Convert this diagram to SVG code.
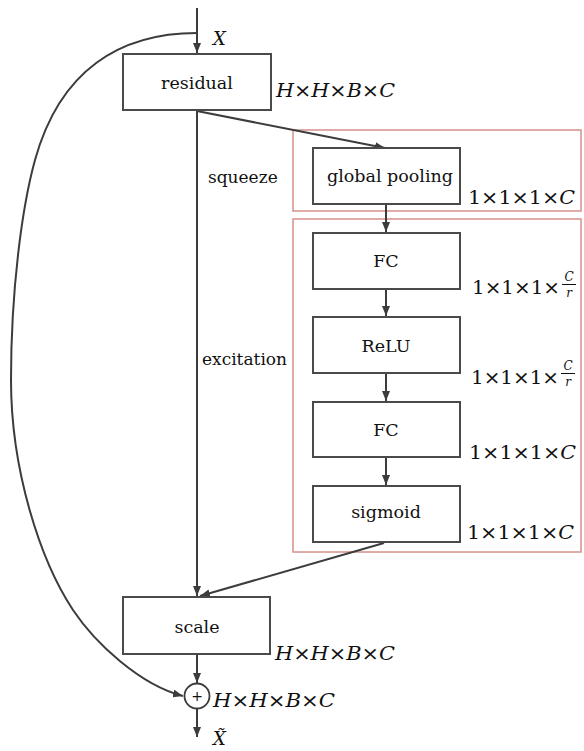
<svg xmlns="http://www.w3.org/2000/svg" width="584" height="751" viewBox="0 0 584 751">
<style>
.box{fill:#fff;stroke:#4a4a4a;stroke-width:2}
.grp{fill:none;stroke:#d4908a;stroke-width:1.5}
.ln{fill:none;stroke:#3c3c3c;stroke-width:2}
.t{font-family:"DejaVu Serif","Liberation Serif",serif;font-size:17.5px;fill:#111;text-anchor:middle}
.lbl{font-family:"DejaVu Serif","Liberation Serif",serif;font-size:17px;fill:#111}
.m{font-family:"DejaVu Serif","Liberation Serif",serif;font-size:18px;fill:#111}
.fr{font-family:"DejaVu Serif","Liberation Serif",serif;font-size:12px;font-style:italic;fill:#111;text-anchor:middle}
.i{font-style:italic}
</style>
<defs>
<marker id="ah" markerWidth="10" markerHeight="8" refX="10" refY="4" orient="auto" markerUnits="userSpaceOnUse">
<path d="M0,0 L10,4 L0,8 z" fill="#3c3c3c"/>
</marker>
</defs>
<rect class="grp" x="293" y="130" width="288" height="81"/>
<rect class="grp" x="293" y="219" width="288" height="333"/>
<g id="connectors">
<line class="ln" x1="197" y1="8" x2="197" y2="53" marker-end="url(#ah)"/>
<line class="ln" x1="197" y1="111" x2="197" y2="596" marker-end="url(#ah)"/>
<line class="ln" x1="197" y1="111" x2="385" y2="148" marker-end="url(#ah)"/>
<line class="ln" x1="386" y1="204" x2="386" y2="232" marker-end="url(#ah)"/>
<line class="ln" x1="386" y1="289" x2="386" y2="316" marker-end="url(#ah)"/>
<line class="ln" x1="386" y1="373" x2="386" y2="401" marker-end="url(#ah)"/>
<line class="ln" x1="386" y1="457" x2="386" y2="485" marker-end="url(#ah)"/>
<line class="ln" x1="384" y1="543" x2="200" y2="596" marker-end="url(#ah)"/>
<line class="ln" x1="197" y1="655" x2="197" y2="683" marker-end="url(#ah)"/>
<line class="ln" x1="197" y1="709" x2="197" y2="737" marker-end="url(#ah)"/>
<path class="ln" d="M197,33 C120,33 60,70 35,160 C22,207 11,290 11,380 C11,470 40,560 73,610 C95,643 140,685 183,696" marker-end="url(#ah)"/>
</g>
<g id="residual">
<rect class="box" x="123" y="54" width="148" height="56"/>
<text class="t" x="197" y="89">residual</text>
</g>
<g id="global-pooling">
<rect class="box" x="313" y="148" width="147" height="56"/>
<text class="t" x="390" y="182">global pooling</text>
</g>
<g id="fc1">
<rect class="box" x="313" y="233" width="147" height="56"/>
<text class="t" x="386" y="267">FC</text>
</g>
<g id="relu">
<rect class="box" x="313" y="317" width="147" height="56"/>
<text class="t" x="386" y="352">ReLU</text>
</g>
<g id="fc2">
<rect class="box" x="313" y="402" width="147" height="55"/>
<text class="t" x="386" y="436">FC</text>
</g>
<g id="sigmoid">
<rect class="box" x="313" y="486" width="147" height="56"/>
<text class="t" x="386" y="518">sigmoid</text>
</g>
<g id="scale">
<rect class="box" x="123" y="597" width="147" height="57"/>
<text class="t" x="197" y="633">scale</text>
</g>
<g id="add">
<circle cx="197" cy="696" r="12.5" fill="#fff" stroke="#3c3c3c" stroke-width="1.8"/>
<text x="197" y="701" style="font-family:'DejaVu Sans',sans-serif;font-size:14px;fill:#111;text-anchor:middle">+</text>
</g>
<g id="labels">
<text class="m i" x="213" y="45">X</text>
<text class="m i" x="213" y="745">X̃</text>
<text class="lbl" x="208" y="183">squeeze</text>
<text class="lbl" x="202" y="365">excitation</text>
<text class="m" x="276" y="97" textLength="119" lengthAdjust="spacingAndGlyphs"><tspan class="i">H</tspan>×<tspan class="i">H</tspan>×<tspan class="i">B</tspan>×<tspan class="i">C</tspan></text>
<text class="m" x="275" y="660" textLength="120" lengthAdjust="spacingAndGlyphs"><tspan class="i">H</tspan>×<tspan class="i">H</tspan>×<tspan class="i">B</tspan>×<tspan class="i">C</tspan></text>
<text class="m" x="213" y="707" textLength="122" lengthAdjust="spacingAndGlyphs"><tspan class="i">H</tspan>×<tspan class="i">H</tspan>×<tspan class="i">B</tspan>×<tspan class="i">C</tspan></text>
<text class="m" x="468" y="204" textLength="107" lengthAdjust="spacingAndGlyphs">1×1×1×<tspan class="i">C</tspan></text>
<text class="m" x="469" y="459" textLength="107" lengthAdjust="spacingAndGlyphs">1×1×1×<tspan class="i">C</tspan></text>
<text class="m" x="467" y="539" textLength="107" lengthAdjust="spacingAndGlyphs">1×1×1×<tspan class="i">C</tspan></text>
<text class="m" x="472" y="294" textLength="88" lengthAdjust="spacingAndGlyphs">1×1×1×</text>
<text class="fr" x="569" y="281">C</text>
<line x1="562" y1="284.5" x2="576" y2="284.5" stroke="#111" stroke-width="1"/>
<text class="fr" x="569" y="297">r</text>
<text class="m" x="471" y="384" textLength="88" lengthAdjust="spacingAndGlyphs">1×1×1×</text>
<text class="fr" x="568" y="370">C</text>
<line x1="561" y1="373.5" x2="575" y2="373.5" stroke="#111" stroke-width="1"/>
<text class="fr" x="568" y="386">r</text>
</g>
</svg>
